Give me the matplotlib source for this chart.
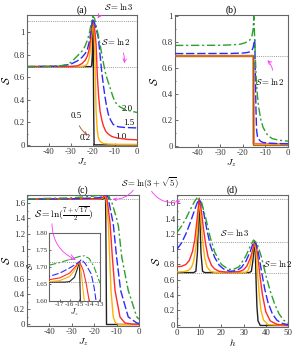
import numpy as np
import matplotlib
matplotlib.use("Agg")
import matplotlib.pyplot as plt
from matplotlib.ticker import MultipleLocator, FormatStrFormatter

plt.rcParams['font.family'] = ['Liberation Serif', 'DejaVu Serif']
plt.rcParams['mathtext.fontset'] = 'cm'
plt.rcParams['axes.unicode_minus'] = False

LN2 = np.log(2)
LN3 = np.log(3)
LN35 = np.log(3 + np.sqrt(5))
LN717 = np.log((7 + np.sqrt(17)) / 2)

temps = ["0.2", "0.5", "1.0", "1.5", "2.0"]
colors = ["#222222", "#ffb000", "#ff2a2a", "#2a2aff", "#2ca02c"]
styles = ["-", "-", "-", (0, (6, 2)), (0, (6, 2, 1.5, 2))]

# ---- panel (a): S vs Jz ----
a_x = [
    [-50, -21.0, -20.6, -20.3, -20.1, -19.95, -19.85, -19.7, -19.5, 0],
    [-50, -25, -23.5, -22.5, -21.7, -21, -20.5, -20.1, -19.6, -19.1, -18.6, -18.1, -17.6, -16.8, -15.3, -13, -10, 0],
    [-50, -30, -27, -25, -23.5, -22.5, -21.7, -21, -20.3, -19.6, -19.1, -18.6, -18.0, -17.4, -16.8, -16, -15.3, -14.2, -13, -11.5, -9.9, -7, -4, 0],
    [-50, -35, -30, -27, -25, -23.5, -22.5, -21.5, -20.8, -20.1, -19.3, -18.6, -17.6, -16.8, -16.1, -15.3, -14.5, -13.8, -13, -12, -10.8, -8.5, -6.2, -3, 0],
    [-50, -40, -35, -32, -30, -27.5, -25, -23.7, -22.5, -21.5, -20.8, -20.1, -19.3, -18.5, -17.6, -16.8, -15.5, -14.5, -13.5, -12.3, -11, -10, -8, -6.2, -3, 0],
]
a_y = [
    [0.693, 0.693, 0.70, 0.80, 1.0, 1.10, 0.8, 0.3, 0.0, 0.0],
    [0.693, 0.694, 0.70, 0.72, 0.77, 0.87, 0.98, 1.09, 1.05, 0.75, 0.30, 0.14, 0.065, 0.03, 0.012, 0.007, 0.005, 0.004],
    [0.693, 0.694, 0.70, 0.72, 0.75, 0.79, 0.85, 0.95, 1.10, 1.08, 1.0, 0.89, 0.60, 0.42, 0.30, 0.22, 0.17, 0.12, 0.095, 0.075, 0.065, 0.055, 0.048, 0.045],
    [0.693, 0.697, 0.715, 0.745, 0.775, 0.81, 0.85, 0.93, 1.03, 1.12, 1.08, 1.03, 0.95, 0.80, 0.66, 0.53, 0.42, 0.34, 0.27, 0.22, 0.18, 0.16, 0.155, 0.152, 0.15],
    [0.693, 0.695, 0.70, 0.71, 0.73, 0.78, 0.83, 0.87, 0.93, 1.00, 1.08, 1.14, 1.12, 1.05, 0.97, 0.89, 0.75, 0.65, 0.58, 0.51, 0.43, 0.38, 0.34, 0.32, 0.30, 0.287],
]

# ---- panel (b) ----
b_x = [
    [-50, -15.3, -15.25, -15.2, 0],
    [-50, -15.3, -15.25, -15.2, 0],
    [-50, -15.3, -15.25, -15.2, 0],
    [-50, -25, -20, -18, -17, -16, -15.4, -15.0, -14.7, -14.5, -14.2, -13.9, -13.5, -13, -12, -11, -8, -4, 0],
    [-50, -30, -24, -21, -19, -17, -16, -15.5, -15.1, -14.8, -14.5, -14.0, -13.5, -13.0, -12, -11, -9, -7, -4, 0],
]
b_y = [
    [0.693, 0.693, 0.3, 0.0, 0.0],
    [0.693, 0.693, 0.3, 0.005, 0.005],
    [0.693, 0.693, 0.3, 0.012, 0.012],
    [0.712, 0.713, 0.716, 0.72, 0.725, 0.735, 0.76, 0.80, 0.82, 0.6, 0.3, 0.12, 0.07, 0.05, 0.033, 0.025, 0.019, 0.016, 0.015],
    [0.775, 0.776, 0.78, 0.785, 0.795, 0.815, 0.845, 0.89, 1.0, 0.85, 0.7, 0.5, 0.38, 0.30, 0.20, 0.14, 0.08, 0.055, 0.042, 0.035],
]

# ---- panel (c) ----
c_x = [
    [-50, -16.5, -16, -15.5, -15.2, -15.0, -14.9, -14.7, -14.5, 0],
    [-50, -20, -18, -17, -16, -15.5, -15, -14.8, -14.5, -14, -13.7, -12.5, -11.5, -10.5, -9, 0],
    [-50, -25, -18, -17, -16, -15.5, -15, -14.6, -14.3, -14, -12.9, -11.9, -10.7, -8.5, -6.3, -3, 0],
    [-50, -30, -18, -17, -16, -15, -14.8, -14.4, -13.8, -13.5, -13.3, -11.5, -10, -8.2, -4.8, -1, 0],
    [-50, -30, -22, -18, -17, -16, -15, -14.5, -14, -13.5, -13, -12, -11, -10, -9.2, -7.7, -4.8, -1, 0],
]
c_y = [
    [1.6555, 1.6555, 1.657, 1.67, 1.695, 1.716, 1.60, 0.9, 0.0, 0.0],
    [1.6555, 1.656, 1.657, 1.66, 1.672, 1.69, 1.716, 1.68, 1.60, 1.45, 1.33, 0.45, 0.10, 0.02, 0.0, 0.0],
    [1.6555, 1.657, 1.663, 1.668, 1.682, 1.698, 1.716, 1.69, 1.65, 1.60, 1.33, 0.89, 0.45, 0.10, 0.02, 0.005, 0.002],
    [1.656, 1.66, 1.673, 1.682, 1.697, 1.715, 1.722, 1.71, 1.68, 1.64, 1.60, 1.33, 0.89, 0.45, 0.10, 0.02, 0.015],
    [1.66, 1.672, 1.69, 1.706, 1.713, 1.722, 1.731, 1.733, 1.725, 1.70, 1.66, 1.60, 1.50, 1.40, 1.30, 0.89, 0.45, 0.10, 0.07],
]

# ---- panel (d): S vs h ----
d_x = [
    [0, 7.5, 8.5, 9.2, 9.7, 10, 10.3, 10.8, 11.5, 12.5, 32.5, 33.5, 34.2, 34.7, 35, 35.3, 35.6, 36, 36.5, 37.5, 50],
    [0, 3, 5, 6.5, 7.5, 8.5, 9.3, 10, 10.7, 11.5, 12.5, 13.5, 15, 17, 31, 32, 33, 34, 34.8, 35.5, 36.2, 37, 37.8, 39, 41, 50],
    [0, 2, 4, 5.5, 7, 8, 9, 10, 11, 12, 13, 14, 15.5, 17, 19, 22, 28, 30, 31.5, 33, 34, 34.8, 35.6, 36.5, 37.5, 38.5, 40, 42, 45, 50],
    [0, 2, 4, 6, 8, 9, 10, 11, 12, 13.5, 15, 17, 19, 21, 24, 27, 29, 31, 33, 34.5, 35.5, 36.5, 38, 39.5, 41, 43, 45, 47, 50],
    [0, 2, 4, 6, 8, 9.5, 11, 13, 15, 17, 20, 23, 25, 28, 31, 33, 34.5, 36, 38, 40, 42, 44, 46, 48, 50],
]
d_y = [
    [0.693, 0.693, 0.71, 0.95, 1.4, 1.655, 1.4, 0.95, 0.71, 0.693, 0.693, 0.71, 0.85, 1.02, 1.10, 0.95, 0.6, 0.25, 0.06, 0.0, 0.0],
    [0.70, 0.705, 0.72, 0.76, 0.84, 1.02, 1.3, 1.655, 1.45, 1.12, 0.88, 0.77, 0.71, 0.695, 0.695, 0.72, 0.80, 0.95, 1.10, 1.0, 0.72, 0.42, 0.2, 0.07, 0.01, 0.0],
    [0.77, 0.775, 0.80, 0.85, 0.97, 1.12, 1.38, 1.66, 1.50, 1.25, 1.05, 0.90, 0.79, 0.74, 0.71, 0.70, 0.705, 0.73, 0.78, 0.88, 0.98, 1.08, 1.07, 0.88, 0.62, 0.40, 0.18, 0.06, 0.015, 0.0],
    [1.0, 1.08, 1.2, 1.35, 1.52, 1.6, 1.65, 1.60, 1.48, 1.25, 1.05, 0.89, 0.79, 0.74, 0.71, 0.72, 0.76, 0.84, 0.97, 1.10, 1.08, 0.98, 0.72, 0.48, 0.30, 0.15, 0.07, 0.03, 0.01],
    [1.22, 1.30, 1.40, 1.52, 1.63, 1.69, 1.62, 1.40, 1.15, 0.96, 0.80, 0.74, 0.73, 0.77, 0.91, 1.04, 1.12, 1.08, 0.90, 0.66, 0.45, 0.28, 0.15, 0.07, 0.03],
]

W, H = 295, 349
fig = plt.figure(figsize=(W / 100, H / 100), dpi=100)


def ax_px(l, t, r, b, z=0):
    return fig.add_axes([l / W, 1 - b / H, (r - l) / W, (b - t) / H], zorder=z)


FS = 6.3
MAG = "#ff33ff"
GRAY = "#666666"


def style_ax(ax, fs=FS):
    for s in ax.spines.values():
        s.set_color(GRAY)
        s.set_linewidth(0.8)
    ax.tick_params(direction="in", length=2, width=0.5, labelsize=fs, pad=1.5,
                   colors="#333333")
    ax.tick_params(which="minor", direction="in", length=1, width=0.4)


def draw(ax, xs, ys, lw=1.0, order=None):
    idx = order if order is not None else range(len(xs))
    for i in idx:
        ax.plot(xs[i], ys[i], color=colors[i], ls=styles[i], lw=lw, zorder=3 + i * 0.01)


def hline(ax, y, x0, x1):
    ax.plot([x0, x1], [y, y], color="#999999", ls=(0, (1, 1.2)), lw=0.7, zorder=2)


# (a)
axa = ax_px(27, 15, 137, 146)
style_ax(axa)
hline(axa, LN3, -50, 0)
hline(axa, LN2, -50, 0)
draw(axa, a_x, a_y, order=[4, 3, 2, 1, 0])
axa.set_xlim(-50, 0)
axa.set_ylim(-0.01, 1.15)
axa.set_xticks([-40, -30, -20, -10, 0])
axa.set_yticks([0, 0.2, 0.4, 0.6, 0.8, 1.0])
axa.set_yticklabels(["0", "0.2", "0.4", "0.6", "0.8", "1"])
axa.yaxis.set_minor_locator(MultipleLocator(0.1))
axa.set_title("(a)", fontsize=7, pad=1.5)
axa.set_xlabel(r"$J_z$", fontsize=7, labelpad=0)
axa.set_ylabel(r"$\mathcal{S}$", fontsize=8, labelpad=1)
axa.text(-7, 0.30, "2.0", fontsize=FS)
axa.text(-6.5, 0.175, "1.5", fontsize=FS)
axa.text(-10, 0.055, "1.0", fontsize=FS)
axa.text(-26, 0.04, "0.2", fontsize=FS)
axa.annotate("0.5", xy=(-21.3, 0.07), xytext=(-30, 0.235), fontsize=FS,
             arrowprops=dict(arrowstyle="->", color="#a0522d", lw=0.6,
                             connectionstyle="arc3,rad=0.25"))
axa.annotate(r"$\mathcal{S}=\ln 3$", xy=(-18.5, 1.10), xytext=(-15, 1.19), fontsize=FS,
             annotation_clip=False,
             arrowprops=dict(arrowstyle="->", color=MAG, lw=0.6,
                             connectionstyle="arc3,rad=0.3"))
axa.annotate(r"$\mathcal{S}=\ln 2$", xy=(-6, 0.70), xytext=(-16.5, 0.88), fontsize=FS,
             arrowprops=dict(arrowstyle="->", color=MAG, lw=0.6,
                             connectionstyle="arc3,rad=-0.3"))

# (b)
axb = ax_px(175, 15, 288, 147)
style_ax(axb)
hline(axb, LN2, -50, 0)
axb.plot(b_x[2], b_y[2], color="#ff2a2a", lw=1.8, zorder=3, alpha=0.7)
axb.plot(b_x[1], b_y[1], color="#ffb000", lw=1.0, zorder=3.1)
axb.plot(b_x[0], b_y[0], color="#222222", lw=0.6, zorder=3.2, alpha=0.6)
axb.plot(b_x[3], b_y[3], color=colors[3], ls=styles[3], lw=1.0, zorder=3.3)
axb.plot(b_x[4], b_y[4], color=colors[4], ls=styles[4], lw=1.0, zorder=3.4)
axb.set_xlim(-50, 0)
axb.set_ylim(-0.01, 1.01)
axb.set_xticks([-40, -30, -20, -10, 0])
axb.set_yticks([0, 0.2, 0.4, 0.6, 0.8, 1.0])
axb.set_yticklabels(["0", "0.2", "0.4", "0.6", "0.8", "1"])
axb.yaxis.set_minor_locator(MultipleLocator(0.1))
axb.set_title("(b)", fontsize=7, pad=1.5)
axb.set_xlabel(r"$J_z$", fontsize=7, labelpad=0)
axb.set_ylabel(r"$\mathcal{S}$", fontsize=8, labelpad=1)
axb.annotate(r"$\mathcal{S}=\ln 2$", xy=(-10, 0.675), xytext=(-14.5, 0.47), fontsize=FS,
             arrowprops=dict(arrowstyle="->", color=MAG, lw=0.6,
                             connectionstyle="arc3,rad=0.4"))

# (c)
axc = ax_px(27, 195, 139, 326)
style_ax(axc)
hline(axc, LN35, -50, 0)
draw(axc, c_x, c_y, order=[4, 3, 2, 1, 0])
axc.set_xlim(-50, 0)
axc.set_ylim(-0.02, 1.71)
axc.set_xticks([-40, -30, -20, -10, 0])
axc.set_yticks([0, 0.2, 0.4, 0.6, 0.8, 1.0, 1.2, 1.4, 1.6])
axc.set_yticklabels(["0", "0.2", "0.4", "0.6", "0.8", "1", "1.2", "1.4", "1.6"])
axc.yaxis.set_minor_locator(MultipleLocator(0.1))
axc.set_title("(c)", fontsize=7, pad=1.5)
axc.set_xlabel(r"$J_z$", fontsize=7, labelpad=0)
axc.set_ylabel(r"$\mathcal{S}$", fontsize=8, labelpad=1)

# inset
axi = ax_px(49, 233, 100, 301, z=2)
style_ax(axi, fs=5)
axi.tick_params(length=1.5, pad=0.8)
hline(axi, LN717, -18.5, -12.5)
hline(axi, LN35, -18.5, -12.5)
draw(axi, c_x, c_y, lw=0.8, order=[4, 3, 2, 1, 0])
axi.set_xlim(-18.1, -12.9)
axi.set_ylim(1.60, 1.80)
axi.set_xticks([-17, -16, -15, -14, -13])
axi.set_yticks([1.60, 1.65, 1.70, 1.75, 1.80])
axi.yaxis.set_major_formatter(FormatStrFormatter("%.2f"))
axi.set_xlabel(r"$J_z$", fontsize=5.5, labelpad=0)
axi.set_ylabel(r"$\mathcal{S}$", fontsize=5.5, labelpad=0.5)
fig.text(34 / W, 1 - 214 / H, r"$\mathcal{S}=\ln(\frac{7+\sqrt{17}}{2})$",
         fontsize=7, va="center", ha="left")
axi.annotate("", xy=(-15.1, LN717 + 0.002), xytext=(52 / W, 1 - 221 / H),
             textcoords="figure fraction", annotation_clip=False,
             arrowprops=dict(arrowstyle="->", color=MAG, lw=0.6,
                             connectionstyle="arc3,rad=0.35"))

# (d)
axd = ax_px(177, 195, 288, 327)
style_ax(axd)
hline(axd, LN35, 0, 50)
hline(axd, LN3, 0, 50)
hline(axd, LN2, 0, 50)
draw(axd, d_x, d_y, order=[4, 3, 2, 1, 0])
axd.set_xlim(0, 50)
axd.set_ylim(-0.02, 1.71)
axd.set_xticks([0, 10, 20, 30, 40, 50])
axd.set_yticks([0, 0.2, 0.4, 0.6, 0.8, 1.0, 1.2, 1.4, 1.6])
axd.set_yticklabels(["0", "0.2", "0.4", "0.6", "0.8", "1", "1.2", "1.4", "1.6"])
axd.yaxis.set_minor_locator(MultipleLocator(0.1))
axd.set_title("(d)", fontsize=7, pad=1.5)
axd.set_xlabel(r"$h$", fontsize=7, labelpad=0)
axd.set_ylabel(r"$\mathcal{S}$", fontsize=8, labelpad=1)
axd.text(19.5, 1.17, r"$\mathcal{S}=\ln 3$", fontsize=FS)
axd.text(38.7, 0.77, r"$\mathcal{S}=\ln 2$", fontsize=FS, zorder=6)

# middle label ln(3+sqrt5)
fig.text(150 / W, 1 - 183 / H, r"$\mathcal{S}=\ln(3+\sqrt{5})$", fontsize=FS,
         ha="center", va="center")
fig.add_artist(matplotlib.patches.FancyArrowPatch(
    (135 / W, 1 - 188 / H), (110 / W, 1 - 199 / H), transform=fig.transFigure,
    arrowstyle="->", color=MAG, lw=0.6, mutation_scale=5,
    connectionstyle="arc3,rad=-0.3"))
fig.add_artist(matplotlib.patches.FancyArrowPatch(
    (150 / W, 1 - 189 / H), (183 / W, 1 - 200 / H), transform=fig.transFigure,
    arrowstyle="->", color=MAG, lw=0.6, mutation_scale=5,
    connectionstyle="arc3,rad=0.4"))

fig.savefig("out.png", dpi=100)
